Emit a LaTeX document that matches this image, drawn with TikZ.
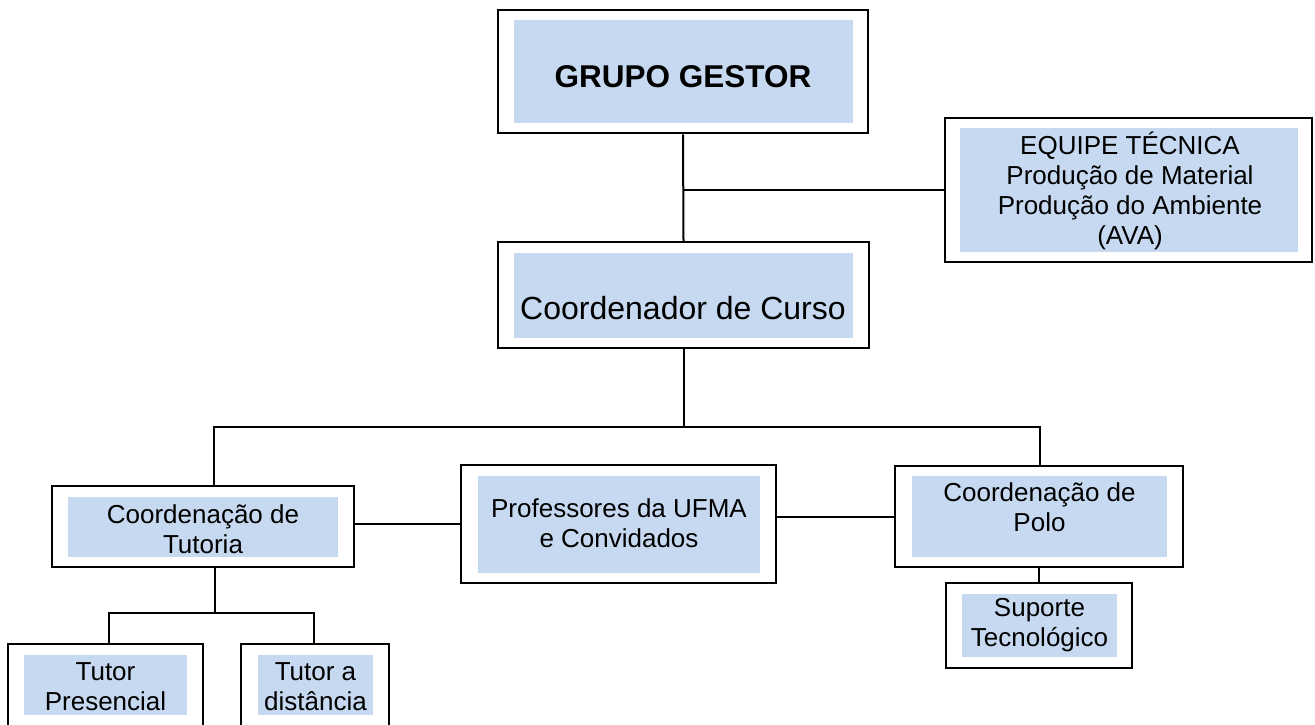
\documentclass[tikz,border=0pt]{standalone}
\usepackage{fontspec}
\setmainfont{Liberation Sans}
\definecolor{boxfill}{RGB}{198,217,240}
\begin{document}
\begin{tikzpicture}[x=1pt,y=-1pt,
  outerbox/.style={draw=black, line width=2.5pt, fill=white, inner sep=0pt},
  innerbox/.style={fill=boxfill, inner sep=0pt},
  label/.style={inner sep=0pt, align=center, font=\fontsize{26}{30}\selectfont},
  link/.style={draw=black, line width=2pt}]
\useasboundingbox (0,0) rectangle (1315,724);
\clip (0,0) rectangle (1315,724);
% GRUPO GESTOR
\node[outerbox, minimum width=370pt, minimum height=123pt] (gg) at (683,71.5) {};
\node[innerbox, minimum width=339pt, minimum height=103pt] (ggi) at (683.5,71.5) {};
\node[label, font=\fontsize{31.5}{36}\selectfont\bfseries] (ggt) at (683,77) {GRUPO GESTOR};
% EQUIPE TECNICA
\node[outerbox, minimum width=367pt, minimum height=144pt] (eq) at (1128.5,190) {};
\node[innerbox, minimum width=338pt, minimum height=124pt] (eqi) at (1129,190) {};
\node[label] (eqt) at (1130,191) {EQUIPE TÉCNICA\\Produção de Material\\Produção do Ambiente\\(AVA)};
% Coordenador de Curso
\node[outerbox, minimum width=371pt, minimum height=106pt] (cc) at (683.5,295) {};
\node[innerbox, minimum width=339pt, minimum height=85pt] (cci) at (683.5,295.5) {};
\node[label, font=\fontsize{32}{38}\selectfont] (cct) at (683,308) {Coordenador de Curso};
% Coordenacao de Tutoria
\node[outerbox, minimum width=302pt, minimum height=81pt] (ct) at (203,526.5) {};
\node[innerbox, minimum width=270pt, minimum height=60pt] (cti) at (203,527) {};
\node[label] (ctt) at (203,529) {Coordenação de\\Tutoria};
% Professores
\node[outerbox, minimum width=315pt, minimum height=118pt] (pr) at (618.5,524) {};
\node[innerbox, minimum width=282pt, minimum height=97pt] (pri) at (619,524.5) {};
\node[label] (prt) at (619,523) {Professores da UFMA\\e Convidados};
% Coordenacao de Polo
\node[outerbox, minimum width=288pt, minimum height=101pt] (cp) at (1039,516.5) {};
\node[innerbox, minimum width=255pt, minimum height=81pt] (cpi) at (1039.5,516.5) {};
\node[label] (cpt) at (1039.5,507.5) {Coordenação de\\Polo};
% Suporte Tecnologico
\node[outerbox, minimum width=186pt, minimum height=85pt] (su) at (1039,625.5) {};
\node[innerbox, minimum width=155pt, minimum height=63pt] (sui) at (1039.5,625.5) {};
\node[label] (sut) at (1039.5,625) {Suporte\\Tecnológico};
% Tutor Presencial
\node[outerbox, minimum width=195pt, minimum height=116pt] (tp) at (105.5,702) {};
\node[innerbox, minimum width=163pt, minimum height=60pt] (tpi) at (105.5,685) {};
\node[label] (tpt) at (105.5,687) {Tutor\\Presencial};
% Tutor a distancia
\node[outerbox, minimum width=148pt, minimum height=116pt] (td) at (315,702) {};
\node[innerbox, minimum width=115pt, minimum height=60pt] (tdi) at (315.5,685) {};
\node[label] (tdt) at (315.5,687) {Tutor a\\distância};
% connectors
\coordinate (hl) at (214,427);
\coordinate (hr) at (1040,427);
\coordinate (tb) at (215,613);
\draw[link] (gg.south) -- (cc.north);
\draw[link] (eq.west) -- (eq.west -| gg.south);
\draw[link] (cc.south) -- (cc.south |- hl);
\draw[link] (hl |- ct.north) -- (hl) -- (hr) -- (hr |- cp.north);
\draw[link] (pr.west) -- (pr.west -| ct.east);
\draw[link] (cp.west) -- (cp.west -| pr.east);
\draw[link] (cp.south) -- (su.north);
\draw[link] (ct.south -| tb) -- (tb);
\draw[link] (tp.north -| 109,0) |- (tb) -| (td.north -| 314,0);
\end{tikzpicture}
\end{document}
